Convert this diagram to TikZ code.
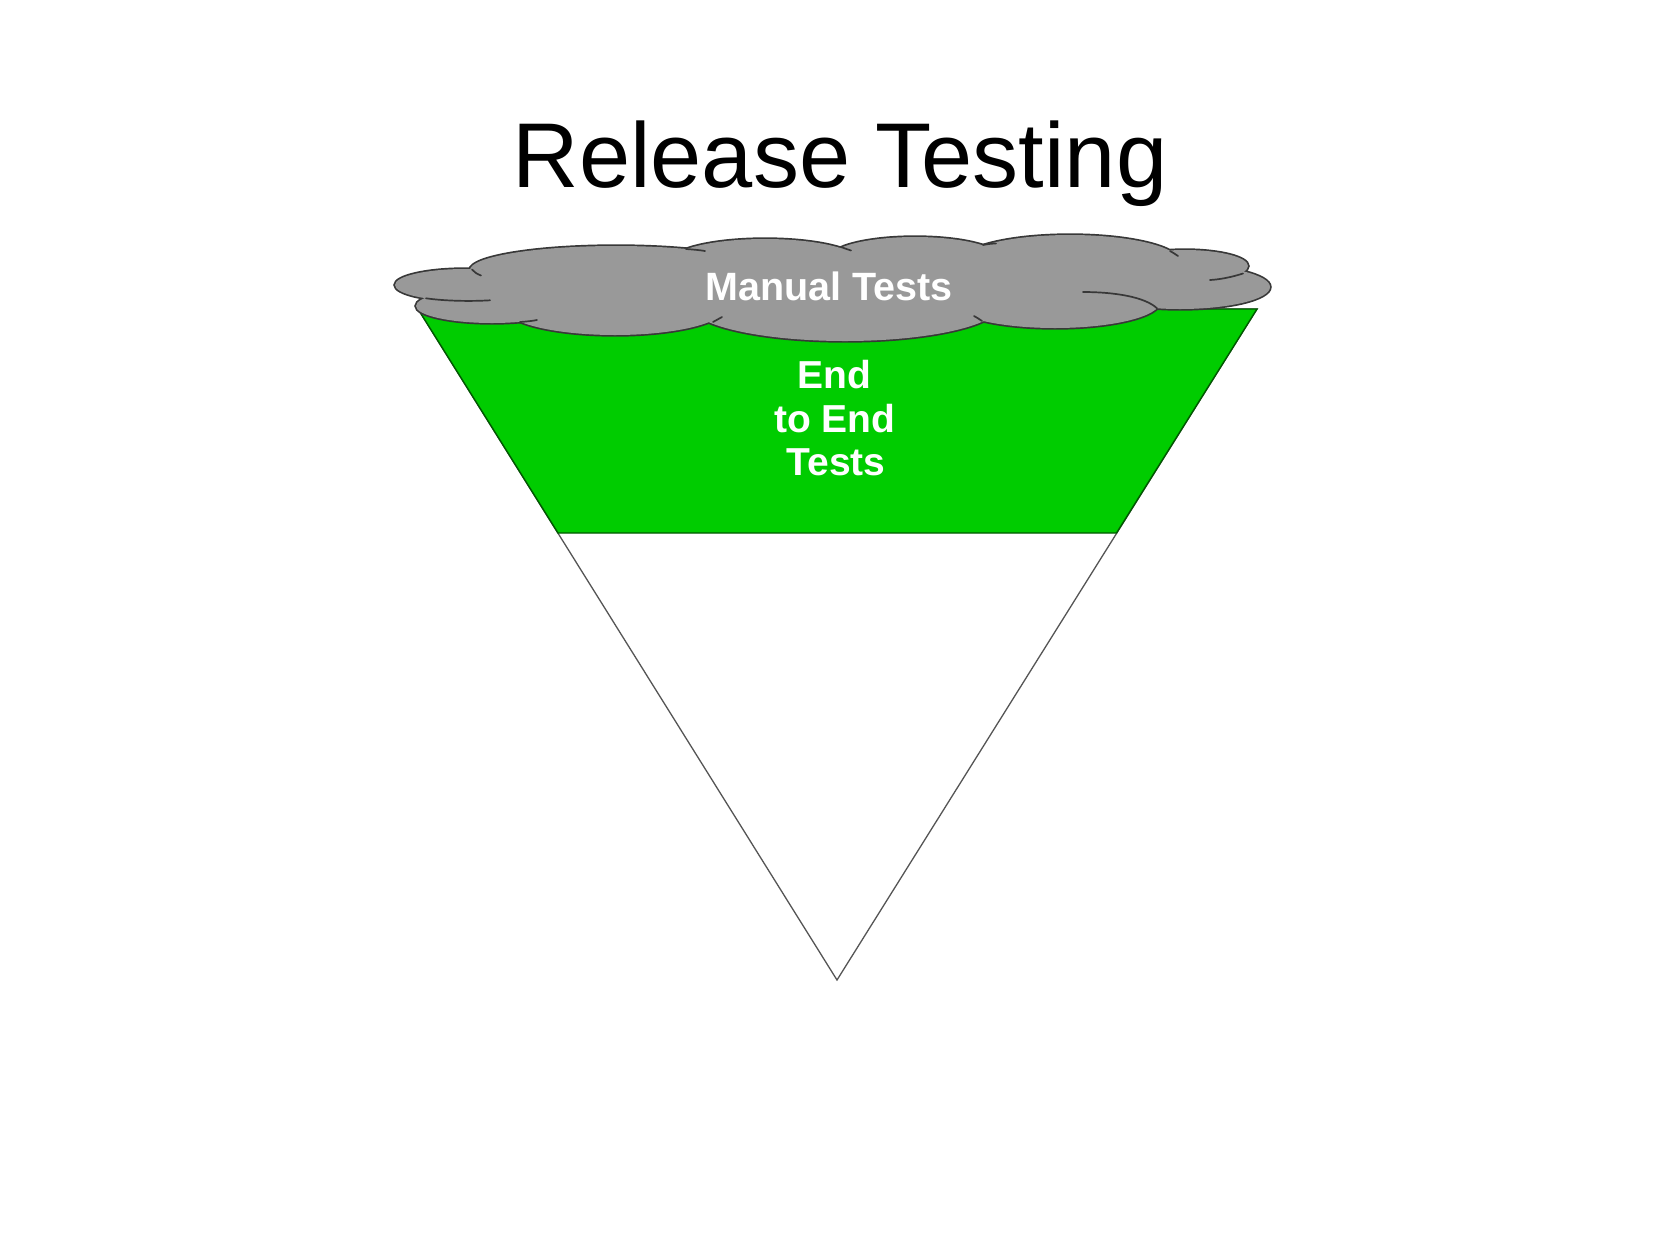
\documentclass[tikz,border=0pt]{standalone}
\usepackage{fontspec}
\setmainfont{Liberation Sans}
\definecolor{cloudgray}{HTML}{999999}
\definecolor{bandgreen}{HTML}{00CC00}
\definecolor{banddark}{HTML}{005A00}
\definecolor{edgegray}{HTML}{555555}
\definecolor{cloudline}{HTML}{383838}
\begin{document}
\begin{tikzpicture}[x=1pt,y=-1pt,
  lobeline/.style={draw=cloudline, line width=3.4pt},
  lobefill/.style={fill=cloudgray},
  tick/.style={draw=cloudline, line width=1.7pt, line cap=round},
  bandtext/.style={font=\bfseries\fontsize{39}{46}\selectfont, text=white, anchor=base, inner sep=0pt}]
\useasboundingbox[fill=white] (0,0) rectangle (1680,1259);

% title
\node[font=\fontsize{92}{110}\selectfont, anchor=base, inner sep=0pt] (title) at (840,187) {Release Testing};

% inverted triangle
\coordinate (tl) at (418,309);
\coordinate (tr) at (1257,309);
\coordinate (apex) at (837,980);
\coordinate (bl) at (558,533);
\coordinate (br) at (1116.5,533);
\draw[draw=edgegray, line width=1.3pt, fill=white, line join=miter] (tl) -- (tr) -- (apex) -- cycle;
\draw[draw=banddark, line width=1.4pt, fill=bandgreen] (tl) -- (tr) -- (br) -- (bl) -- cycle;

% cloud: union of lobes
\def\lobes{465/285/70/16, 492/306/76/17, 616/270/146/24, 765/262/95/23, 915/258/85/21, 1070/262/110/27, 1185/266/63/16, 1180/287/90/22, 1055/302/105/26, 845/305/155/36, 615/308/110/27}
\foreach \cx/\cy/\rx/\ry in \lobes {
  \path[lobeline] (\cx,\cy) ellipse [x radius=\rx pt, y radius=\ry pt];
}
\foreach \cx/\cy/\rx/\ry in \lobes {
  \path[lobefill] (\cx,\cy) ellipse [x radius=\rx pt, y radius=\ry pt];
}
% interior filler (no outline)
\path[lobefill] (840,283) ellipse [x radius=360pt, y radius=30pt];
% inner arcs of the cloud
\path[tick] (426,298.3) .. controls (445,301) and (470,301.5) .. (490,300.3);
\path[tick] (472,269.5) .. controls (474,272) and (477,274) .. (481,275.5);
\path[tick] (686,249) .. controls (693,249.5) and (699,250) .. (705,251);
\path[tick] (841,247) .. controls (845,248.5) and (848,249.5) .. (851,250.5);
\path[tick] (983,245) .. controls (988,244) and (992,243.5) .. (996,243.5);
\path[tick] (1170,251) .. controls (1173,252.5) and (1175,254) .. (1178,256);
\path[tick] (1243,273.5) .. controls (1232,277) and (1220,279.5) .. (1210,280);
\path[tick] (1157,308.3) .. controls (1145,297) and (1115,292) .. (1083,292);
\path[tick] (982,321) .. controls (979,319) and (977,317.5) .. (974,316);
\path[tick] (713,322) .. controls (716,320.5) and (719,318.5) .. (722,317);
\path[tick] (520,322) .. controls (527,321.5) and (532,321) .. (537,320);

% labels
\node[font=\bfseries\fontsize{39.5}{47}\selectfont, text=white, anchor=base, inner sep=0pt] (manual) at (829,300) {Manual Tests};
\node[bandtext] (e1) at (834,388.5) {End};
\node[bandtext] (e2) at (835,432) {to End};
\node[bandtext] (e3) at (836,475.5) {Tests};
\end{tikzpicture}
\end{document}
